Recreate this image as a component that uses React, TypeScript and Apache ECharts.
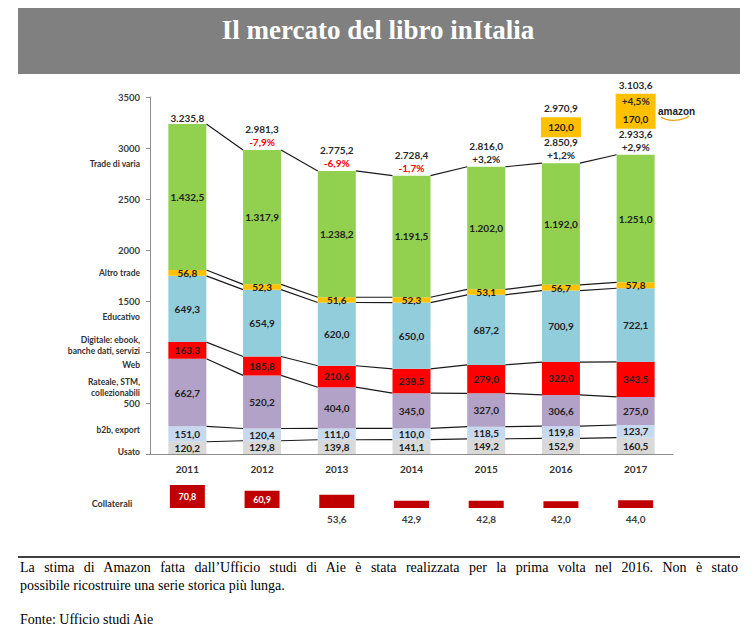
import React, { useEffect, useRef } from 'react';
import * as echarts from 'echarts';

const years = ['2011', '2012', '2013', '2014', '2015', '2016', '2017'];
const usato = [120.2, 129.8, 139.8, 141.1, 149.2, 152.9, 160.5];
const b2bExport = [151.0, 120.4, 111.0, 110.0, 118.5, 119.8, 123.7];
const rateale = [662.7, 520.2, 404.0, 345.0, 327.0, 306.6, 275.0];
const digitale = [163.3, 185.8, 210.6, 238.5, 279.0, 322.0, 343.5];
const educativo = [649.3, 654.9, 620.0, 650.0, 687.2, 700.9, 722.1];
const altroTrade = [56.8, 52.3, 51.6, 52.3, 53.1, 56.7, 57.8];
const tradeVaria = [1432.5, 1317.9, 1238.2, 1191.5, 1202.0, 1192.0, 1251.0];
const totals = [3235.8, 2981.3, 2775.2, 2728.4, 2816.0, 2850.9, 2933.6];
const amazon: (number | null)[] = [null, null, null, null, null, 120.0, 170.0];
const collaterali = [70.8, 60.9, 53.6, 42.9, 42.8, 42.0, 44.0];

const layerNames = ['Usato', 'b2b, export', 'Rateale, STM, collezionabili', 'Digitale', 'Educativo', 'Altro trade', 'Trade di varia'];
const layerColors = ['#d9d9d9', '#c6d9ef', '#b3a2c7', '#ff0000', '#92cddc', '#ffc000', '#92d050'];
const layers = [usato, b2bExport, rateale, digitale, educativo, altroTrade, tradeVaria];

const sideLabels = ['Trade di varia', 'Altro trade', 'Educativo', 'Digitale: ebook,', 'banche dati, servizi', 'Web', 'Rateale, STM,', 'collezionabili', 'b2b, export', 'Usato'];
const sideLabelY = [164, 273, 317, 340, 351, 365, 382, 393, 430, 452];

const titleText = 'Il mercato del libro inItalia';
const noteLine1 = 'La stima di Amazon fatta dall\u2019Ufficio studi di Aie è stata realizzata per la prima volta nel 2016. Non è stato';
const noteLine2 = 'possibile ricostruire una serie storica più lunga.';
const sourceText = 'Fonte: Ufficio studi Aie';

const FONT = 'Lato, "Liberation Sans", sans-serif';

function fmt(v: number): string {
  const s = Math.abs(v).toFixed(1);
  const [int, dec] = s.split('.');
  const withDots = int.replace(/\B(?=(\d{3})+(?!\d))/g, '.');
  return (v < 0 ? '-' : '') + withDots + ',' + dec;
}
function pct(cur: number, prev: number): string {
  const p = (cur / prev - 1) * 100;
  return (p >= 0 ? '+' : '') + fmt(p) + '%';
}

export default function App() {
  const ref = useRef<HTMLDivElement>(null);
  useEffect(() => {
    if (!ref.current) return;
    const chart = echarts.init(ref.current, undefined, { renderer: 'svg' });

    const cum: number[][] = [];
    layers.forEach((arr, k) => {
      cum.push(arr.map((v, i) => v + (k > 0 ? cum[k - 1][i] : 0)));
    });
    const HALF = 19;

    const barSeries = layers.map((arr, k) => ({
      type: 'bar',
      name: layerNames[k],
      stack: 'm',
      xAxisIndex: 0,
      yAxisIndex: 0,
      barWidth: 38,
      data: arr,
      itemStyle: { color: layerColors[k] },
      z: 3,
      label: {
        show: true,
        position: 'inside',
        formatter: (p: any) => fmt(p.value),
        fontFamily: FONT,
        fontWeight: 'bold',
        fontSize: 10,
        color: '#222',
      },
    }));

    const connectors = {
      type: 'custom',
      xAxisIndex: 0,
      yAxisIndex: 0,
      z: 2,
      silent: true,
      data: years.slice(0, 6).map((_, i) => [i, totals[i]]),
      encode: { x: 0, y: 1 },
      renderItem: (params: any, api: any) => {
        const i = params.dataIndex;
        const children: any[] = [];
        for (let k = 0; k < cum.length; k++) {
          const p1 = api.coord([i, cum[k][i]]);
          const p2 = api.coord([i + 1, cum[k][i + 1]]);
          children.push({
            type: 'line',
            shape: { x1: p1[0] + HALF, y1: p1[1], x2: p2[0] - HALF, y2: p2[1] },
            style: { stroke: '#1a1a1a', lineWidth: 1.2 },
          });
        }
        return { type: 'group', children };
      },
    };

    const totalLabels = {
      type: 'custom',
      xAxisIndex: 0,
      yAxisIndex: 0,
      z: 5,
      silent: true,
      data: totals.map((t, i) => [i, t]),
      encode: { x: 0, y: 1 },
      renderItem: (params: any, api: any) => {
        const i = params.dataIndex;
        const p = api.coord([i, totals[i]]);
        const children: any[] = [];
        const hasPct = i > 0;
        children.push({
          type: 'text',
          style: {
            text: fmt(totals[i]), x: p[0], y: p[1] - (hasPct ? 21 : 6),
            align: 'center', verticalAlign: 'middle',
            fontFamily: FONT, fontWeight: 'bold', fontSize: 10, fill: '#2b2b2b',
          },
        });
        if (hasPct) {
          const d = totals[i] / totals[i - 1] - 1;
          children.push({
            type: 'text',
            style: {
              text: pct(totals[i], totals[i - 1]), x: p[0], y: p[1] - 8,
              align: 'center', verticalAlign: 'middle',
              fontFamily: FONT, fontWeight: 'bold', fontSize: 10, fill: d < 0 ? '#ff0000' : '#2b2b2b',
            },
          });
        }
        return { type: 'group', children };
      },
    };

    const amazonIdx = amazon.map((v, i) => (v == null ? -1 : i)).filter((i) => i >= 0);
    const amazonBoxes = {
      type: 'custom',
      xAxisIndex: 0,
      yAxisIndex: 0,
      z: 6,
      silent: true,
      data: amazonIdx.map((i) => [i, totals[i] + (amazon[i] as number)]),
      encode: { x: 0, y: 1 },
      renderItem: (params: any, api: any) => {
        const i = amazonIdx[params.dataIndex];
        const a = amazon[i] as number;
        const prevA = i > 0 ? amazon[i - 1] : null;
        const p = api.coord([i, totals[i]]);
        const bottom = p[1] - 26;
        const h = prevA != null ? 35 : 20;
        const top = bottom - h;
        const children: any[] = [
          { type: 'rect', shape: { x: p[0] - 20, y: top, width: 40, height: h }, style: { fill: '#ffc000' } },
          {
            type: 'text',
            style: {
              text: fmt(a), x: p[0], y: bottom - 10, align: 'center', verticalAlign: 'middle',
              fontFamily: FONT, fontWeight: 'bold', fontSize: 10, fill: '#222',
            },
          },
          {
            type: 'text',
            style: {
              text: fmt(totals[i] + a), x: p[0], y: top - 9, align: 'center', verticalAlign: 'middle',
              fontFamily: FONT, fontWeight: 'bold', fontSize: 10, fill: '#2b2b2b',
            },
          },
        ];
        if (prevA != null) {
          children.push({
            type: 'text',
            style: {
              text: pct(totals[i] + a, totals[i - 1] + prevA), x: p[0], y: top + 7, align: 'center', verticalAlign: 'middle',
              fontFamily: FONT, fontWeight: 'bold', fontSize: 10, fill: '#2b2b2b',
            },
          });
        }
        return { type: 'group', children };
      },
    };

    const collSeries = {
      type: 'bar',
      name: 'Collaterali',
      xAxisIndex: 1,
      yAxisIndex: 1,
      barWidth: 35,
      itemStyle: { color: '#c00000' },
      data: collaterali.map((v, i) => ({
        value: v,
        label: i < 2
          ? { show: true, position: 'inside', color: '#fff', fontSize: 9, fontWeight: 'bold', fontFamily: FONT, formatter: (p: any) => fmt(p.value) }
          : { show: true, position: 'bottom', distance: 6, color: '#404040', fontSize: 10, fontWeight: 'bold', fontFamily: FONT, formatter: (p: any) => fmt(p.value) },
      })),
    };

    const graphics: any[] = [
      { type: 'rect', shape: { x: 18, y: 8, width: 722, height: 66 }, style: { fill: '#808080' }, z: 0 },
      {
        type: 'text', x: 378, y: 30,
        style: { text: titleText, align: 'center', verticalAlign: 'middle', fontFamily: '"Liberation Serif", serif', fontWeight: 'bold', fontSize: 27, fill: '#ffffff' },
      },
      { type: 'line', shape: { x1: 18, y1: 557, x2: 740, y2: 557 }, style: { stroke: '#000', lineWidth: 1.5 } },
      {
        type: 'text', x: 112, y: 503,
        style: { text: 'Collaterali', align: 'center', verticalAlign: 'middle', fontFamily: FONT, fontWeight: 'bold', fontSize: 9, fill: '#333' },
      },
      {
        type: 'text', x: 658, y: 111,
        style: { text: 'amazon', align: 'left', verticalAlign: 'middle', fontFamily: '"Liberation Sans", Arial, sans-serif', fontWeight: 'bold', fontSize: 10, fill: '#222' },
      },
      { type: 'bezierCurve', shape: { x1: 661, y1: 117, x2: 689, y2: 116, cpx1: 668, cpy1: 122, cpx2: 682, cpy2: 121 }, style: { stroke: '#f39a00', lineWidth: 1.2, fill: 'none' } },
    ];
    sideLabels.forEach((t, k) => {
      graphics.push({
        type: 'text', x: 140, y: sideLabelY[k],
        style: { text: t, align: 'right', verticalAlign: 'middle', fontFamily: FONT, fontWeight: 'bold', fontSize: 8.5, fill: '#333' },
      });
    });

    chart.setOption({
      animation: false,
      backgroundColor: '#ffffff',
      grid: [
        { left: 150, right: 82, top: 97, bottom: 185 },
        { left: 150, right: 82, top: 485, height: 23 },
      ],
      xAxis: [
        {
          type: 'category', gridIndex: 0, data: years,
          axisLine: { lineStyle: { color: '#8c8c8c', width: 1 } },
          axisTick: { show: false },
          axisLabel: { fontFamily: FONT, fontWeight: 'bold', fontSize: 10, color: '#333', margin: 10 },
        },
        {
          type: 'category', gridIndex: 1, data: years,
          axisLine: { show: false }, axisTick: { show: false }, axisLabel: { show: false },
        },
      ],
      yAxis: [
        {
          type: 'value', gridIndex: 0, min: 0, max: 3500, interval: 500,
          splitLine: { show: false },
          axisLine: { show: true, lineStyle: { color: '#8c8c8c', width: 1 } },
          axisTick: { show: true, length: 4, lineStyle: { color: '#8c8c8c' } },
          axisLabel: {
            fontFamily: FONT, fontWeight: 'bold', fontSize: 9.5, color: '#404040', margin: 10,
            formatter: (v: number) => (v === 0 || v === 1000 ? '' : String(v)),
          },
        },
        {
          type: 'value', gridIndex: 1, min: 30, max: 71, startValue: 30,
          show: false, splitLine: { show: false },
        },
      ],
      graphic: graphics,
      series: [connectors, ...barSeries, totalLabels, amazonBoxes, collSeries],
    });
    return () => chart.dispose();
  }, []);

  const noteStyle: React.CSSProperties = {
    position: 'absolute', left: 20, width: 718, fontFamily: '"Liberation Serif", "Times New Roman", serif',
    fontSize: 14, lineHeight: '18px', color: '#000', whiteSpace: 'nowrap',
  };
  return (
    <div style={{ position: 'absolute', left: 0, top: 0, width: 755, height: 639, background: '#fff', overflow: 'hidden' }}>
      <div ref={ref} style={{ position: 'absolute', left: 0, top: 0, width: 755, height: 639 }} />
      <div style={{ ...noteStyle, top: 559, textAlign: 'justify', textAlignLast: 'justify', whiteSpace: 'normal' }}>{noteLine1}</div>
      <div style={{ ...noteStyle, top: 577 }}>{noteLine2}</div>
      <div style={{ ...noteStyle, top: 611 }}>{sourceText}</div>
    </div>
  );
}
